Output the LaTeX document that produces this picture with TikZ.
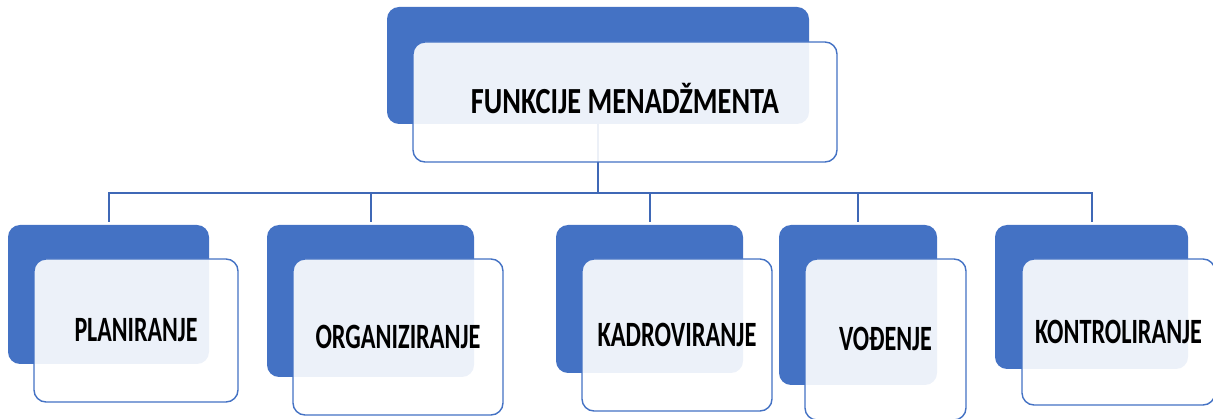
\documentclass[tikz,border=0pt]{standalone}
\usepackage{fontspec}
\usepackage{graphicx}
\setmainfont{Carlito}
\definecolor{myblue}{HTML}{4472C4}
\definecolor{lineblue}{HTML}{3F68B6}
\newcommand\boxlbl[3]{\resizebox{#1pt}{\height}{\fontsize{#2}{#2}\selectfont\bfseries #3}}
\begin{document}
\begin{tikzpicture}[x=1pt,y=-1pt,
  bluebox/.style={fill=myblue, draw=none, rounded corners=12pt, inner sep=0pt},
  whitebox/.style={draw=myblue, line width=1.4pt, fill=white, fill opacity=0.9, text opacity=1, rounded corners=12pt, inner sep=0pt},
  conn/.style={draw=lineblue, line width=2pt},
  drop/.style={conn, shorten >=3pt}]
\useasboundingbox (0,0) rectangle (1213,419);
% blue back boxes
\node[bluebox, minimum width=422pt, minimum height=117pt] (topb) at (598,65.5) {};
\node[bluebox, minimum width=201pt, minimum height=139pt] (b1) at (108.5,294.5) {};
\node[bluebox, minimum width=207pt, minimum height=152pt] (b2) at (370.5,301) {};
\node[bluebox, minimum width=187pt, minimum height=148pt] (b3) at (649.5,299) {};
\node[bluebox, minimum width=158pt, minimum height=160pt] (b4) at (858,305) {};
\node[bluebox, minimum width=193pt, minimum height=144pt] (b5) at (1091.5,297) {};
% connectors
\coordinate (bus) at (598,193);
\draw[conn] (topb.south) -- (topb.south |- bus);
\foreach \c in {b1,b2,b3,b4,b5}{
  \draw[drop] (topb.south |- bus) -| (\c.north);
}
% white front boxes
\node[whitebox, minimum width=424pt, minimum height=120pt, text height=23pt, text depth=0pt] (topw) at (625,102) {\boxlbl{308}{36.8}{FUNKCIJE MENADŽMENTA}};
\node[whitebox, minimum width=204pt, minimum height=143pt, text height=22.5pt, text depth=0pt] (w1) at (136,330.5) {\boxlbl{123}{35.6}{PLANIRANJE}};
\node[whitebox, minimum width=210pt, minimum height=156pt, text height=22.5pt, text depth=0pt] (w2) at (398,337) {\boxlbl{165}{35.6}{ORGANIZIRANJE}};
\node[whitebox, minimum width=190pt, minimum height=152pt, text height=22.5pt, text depth=0pt] (w3) at (677,335) {\boxlbl{159}{35.6}{KADROVIRANJE}};
\node[whitebox, minimum width=161pt, minimum height=161pt, text height=22.5pt, text depth=0pt] (w4) at (885.5,339.5) {\boxlbl{93}{35.6}{VOĐENJE}};
\node[whitebox, minimum width=193pt, minimum height=146pt, text height=22.5pt, text depth=0pt] (w5) at (1118.5,332) {\boxlbl{167}{35.6}{KONTROLIRANJE}};
\end{tikzpicture}
\end{document}
